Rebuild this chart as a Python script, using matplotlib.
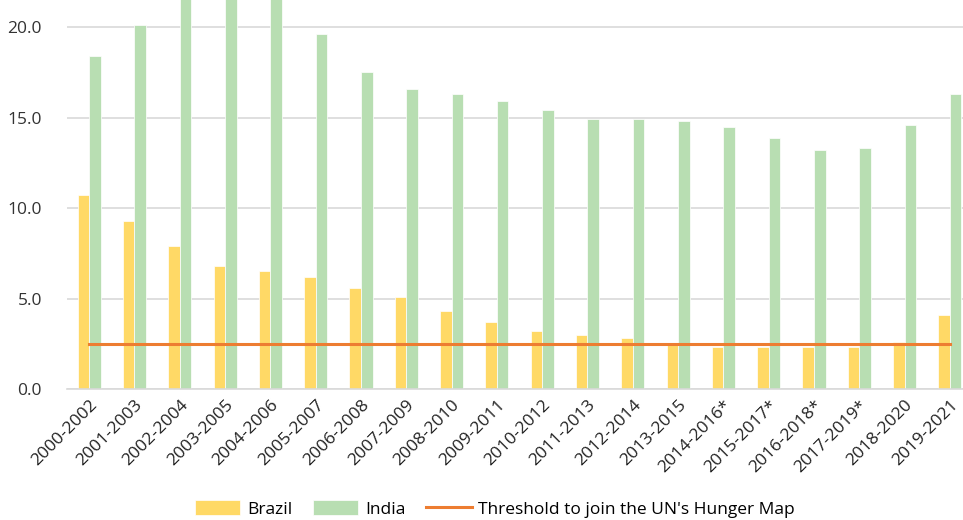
import matplotlib
matplotlib.use("Agg")
import matplotlib.pyplot as plt
import numpy as np

# Prevalence of undernourishment (%), three-year averages
periods = ["2000-2002", "2001-2003", "2002-2004", "2003-2005", "2004-2006",
           "2005-2007", "2006-2008", "2007-2009", "2008-2010", "2009-2011",
           "2010-2012", "2011-2013", "2012-2014", "2013-2015", "2014-2016*",
           "2015-2017*", "2016-2018*", "2017-2019*", "2018-2020", "2019-2021"]
brazil = [10.7, 9.3, 7.9, 6.8, 6.5, 6.2, 5.6, 5.1, 4.3, 3.7,
          3.2, 3.0, 2.8, 2.5, 2.3, 2.3, 2.3, 2.3, 2.6, 4.1]
india = [18.4, 20.1, 21.8, 22.0, 21.7, 19.6, 17.5, 16.6, 16.3, 15.9,
         15.4, 14.9, 14.9, 14.8, 14.5, 13.9, 13.2, 13.3, 14.6, 16.3]
threshold = 2.5

plt.rcParams['font.family'] = ['Open Sans', 'DejaVu Sans']

fig = plt.figure(figsize=(9.63, 5.2), dpi=100)
ax = fig.add_axes([67/963, 131/520, 896/963, 389/520])

x = np.arange(len(periods))
w = 0.255
b1 = ax.bar(x - w/2, brazil, w, color="#FFD966", edgecolor="white", linewidth=0.5, label="Brazil", zorder=2)
b2 = ax.bar(x + w/2, india, w, color="#B8DEB2", edgecolor="white", linewidth=0.5, label="India", zorder=2)
ln, = ax.plot([x[0], x[-1]], [threshold, threshold], color="#ED7D31", linewidth=2.2,
              label="Threshold to join the UN's Hunger Map", zorder=3)

ax.set_ylim(0, 21.5)
ax.set_xlim(-0.49, 19.29)
ax.set_yticks([0, 5, 10, 15, 20])
ax.set_yticklabels(["0.0", "5.0", "10.0", "15.0", "20.0"], fontsize=12.5, color="#333333")
ax.set_xticks(x)
ax.set_xticklabels(periods, rotation=45, ha="right", rotation_mode="anchor", fontsize=12.5, color="#222222")
ax.tick_params(axis="both", length=0)
ax.tick_params(axis="y", pad=18)
ax.tick_params(axis="x", pad=6)

ax.grid(axis="y", color="#D9D9D9", linewidth=1.2, zorder=0)
for s in ["top", "right", "left"]:
    ax.spines[s].set_visible(False)
ax.spines["bottom"].set_color("#D9D9D9")
ax.spines["bottom"].set_linewidth(1.2)

fig.legend(handles=[b1, b2, ln], loc="center", bbox_to_anchor=(495/963, 1 - 509/520), ncol=3,
           frameon=False, fontsize=12.5, handlelength=2.6, handleheight=0.9,
           columnspacing=1.2, handletextpad=0.4)

fig.savefig("out.png", dpi=100)
